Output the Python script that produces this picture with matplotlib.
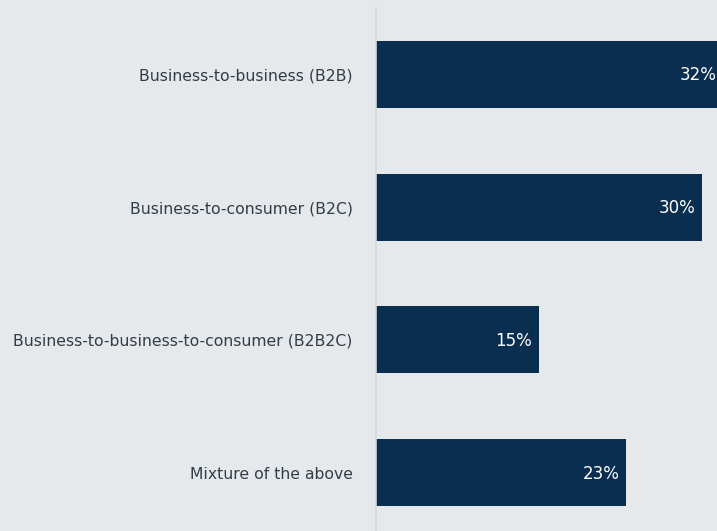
import matplotlib
matplotlib.use("Agg")
import matplotlib.pyplot as plt
from matplotlib.transforms import offset_copy

categories = [
    "Business-to-business (B2B)",
    "Business-to-consumer (B2C)",
    "Business-to-business-to-consumer (B2B2C)",
    "Mixture of the above",
]
values = [32, 30, 15, 23]

bg = "#e5e9ec"
bar_color = "#0a2e4f"
text_color = "#333d47"

plt.rcParams["font.family"] = ["DejaVu Sans"]

fig = plt.figure(figsize=(7.17, 5.31), dpi=100, facecolor=bg)
ax = fig.add_axes([375.5 / 717, -8.0 / 531, 341.5 / 717, 531 / 531])
ax.set_facecolor(bg)

ypos = list(range(len(categories)))
ax.barh(ypos, values, height=0.505, color=bar_color)
ax.set_ylim(len(categories) - 0.5, -0.5)
ax.set_xlim(0, 31.4)

ax.set_yticks(ypos)
ax.set_yticklabels(categories, fontsize=11.25, color=text_color)
ax.tick_params(axis="y", length=0, pad=16.5)
ax.set_xticks([])

for s in ["top", "right", "bottom"]:
    ax.spines[s].set_visible(False)
ax.spines["left"].set_color("#d3d7db")
ax.spines["left"].set_linewidth(1.2)

trans = offset_copy(ax.transData, fig=fig, x=-6.5, y=-1, units="dots")
for y, v in zip(ypos, values):
    ax.text(v, y, f"{v}%", transform=trans, ha="right", va="center",
            color="white", fontsize=12, clip_on=False)

fig.savefig("out.png", dpi=100, facecolor=bg)
